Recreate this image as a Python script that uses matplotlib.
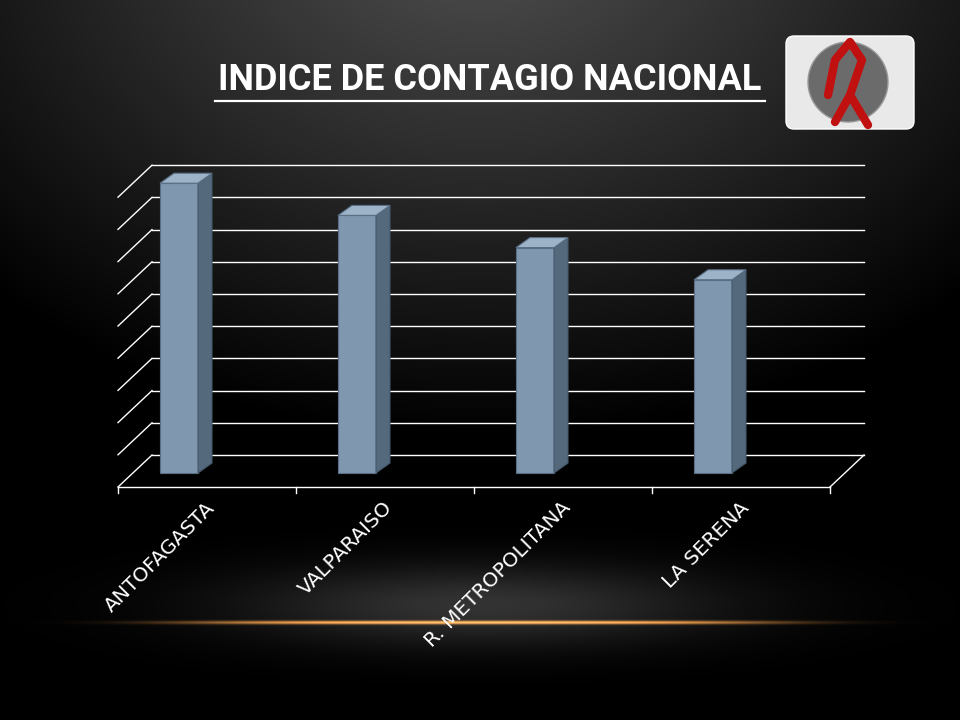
import matplotlib.pyplot as plt
import numpy as np
from matplotlib.patches import Polygon, FancyBboxPatch, Circle

# datos (unidades de la grilla)
categories = ['ANTOFAGASTA', 'VALPARAISO', 'R. METROPOLITANA', 'LA SERENA']
values = [9, 8, 7, 6]
n_grid = 9

W, H = 960, 720
fig = plt.figure(figsize=(9.6, 7.2), dpi=100)
ax = fig.add_axes([0, 0, 1, 1])
ax.set_xlim(0, W)
ax.set_ylim(H, 0)
ax.axis('off')

# fondo degradado
yy, xx = np.mgrid[0:H, 0:W]
r = np.sqrt(((xx - 480) / 700.0) ** 2 + ((yy + 80) / 520.0) ** 2)
bg = np.clip(0.32 - 0.32 * r, 0, 1)
glow = 0.2 * np.exp(-(((xx - 480) / 240.0) ** 2 + ((yy - 605) / 40.0) ** 2))
img = np.clip(bg + glow, 0, 1)
rgb = np.dstack([img, img, img])
line = np.exp(-((yy - 622) / 1.8) ** 2) * np.exp(-((xx - 480) / 300.0) ** 4)
rgb[..., 0] += 0.95 * line
rgb[..., 1] += 0.6 * line
rgb[..., 2] += 0.25 * line
ax.imshow(np.clip(rgb, 0, 1), extent=[0, W, H, 0], zorder=0, aspect='auto')

# geometria del grafico 3D
x0, x1 = 118, 830      # piso frontal
dx, dy = 34, -32       # profundidad
floor_y = 487
unit = 32.2            # pixeles por unidad

def ypix(v, depth=0.0):
    return floor_y + dy * depth - v * unit

# pared trasera + lateral
for k in range(n_grid + 1):
    yb = ypix(k, 1)
    ax.plot([x0 + dx, x1 + dx], [yb, yb], color='white', lw=1, zorder=1)
    ax.plot([x0, x0 + dx], [yb - dy, yb], color='white', lw=1, zorder=1)
ax.plot([x1, x1 + dx], [floor_y, floor_y + dy], color='white', lw=1, zorder=1)
ax.plot([x0, x1], [floor_y, floor_y], color='white', lw=1, zorder=2)

step = (x1 - x0) / len(categories)
for i in range(len(categories) + 1):
    xt = x0 + i * step
    ax.plot([xt, xt], [floor_y, floor_y + 6], color='white', lw=1, zorder=2)

# barras
bw, sd = 38, 14
for i, (cat, v) in enumerate(zip(categories, values)):
    left = x0 + i * step + 42
    bot = 473
    top = bot - v * unit
    ax.add_patch(Polygon([[left, bot], [left + bw, bot], [left + bw, top], [left, top]],
                         closed=True, fc='#7F98B0', ec='#5a6f84', lw=0.8, zorder=3))
    ax.add_patch(Polygon([[left + bw, bot], [left + bw + sd, bot - 10],
                          [left + bw + sd, top - 10], [left + bw, top]],
                         closed=True, fc='#55697D', ec='#45586a', lw=0.8, zorder=3))
    ax.add_patch(Polygon([[left, top], [left + bw, top], [left + bw + sd, top - 10],
                          [left + sd, top - 10]],
                         closed=True, fc='#9DB3C8', ec='#5a6f84', lw=0.8, zorder=3))
    ax.text(x0 + i * step + 87, 498, cat, rotation=45, rotation_mode='anchor',
            ha='right', va='top', color='white', fontsize=14.5, zorder=4)

# titulo
ax.text(490, 80, 'INDICE DE CONTAGIO NACIONAL', color='white', fontsize=26,
        fontweight='bold', fontfamily='Roboto', ha='center', va='center', zorder=5)
ax.plot([215, 765], [101, 101], color='white', lw=1.6, zorder=5)

# logo
ax.add_patch(FancyBboxPatch((786, 36), 128, 93, boxstyle='round,pad=0,rounding_size=8',
                            fc='#e9e9e9', ec='white', zorder=5))
ax.add_patch(Circle((848, 82), 40, fc='#6b6b6b', ec='#999999', zorder=6))
ax.plot([835, 850, 862, 850, 835, 828], [122, 95, 60, 42, 60, 95], color='#c01010',
        lw=6, solid_capstyle='round', zorder=7)
ax.plot([850, 868], [95, 125], color='#c01010', lw=6, solid_capstyle='round', zorder=7)

fig.savefig('out.png', dpi=100)
